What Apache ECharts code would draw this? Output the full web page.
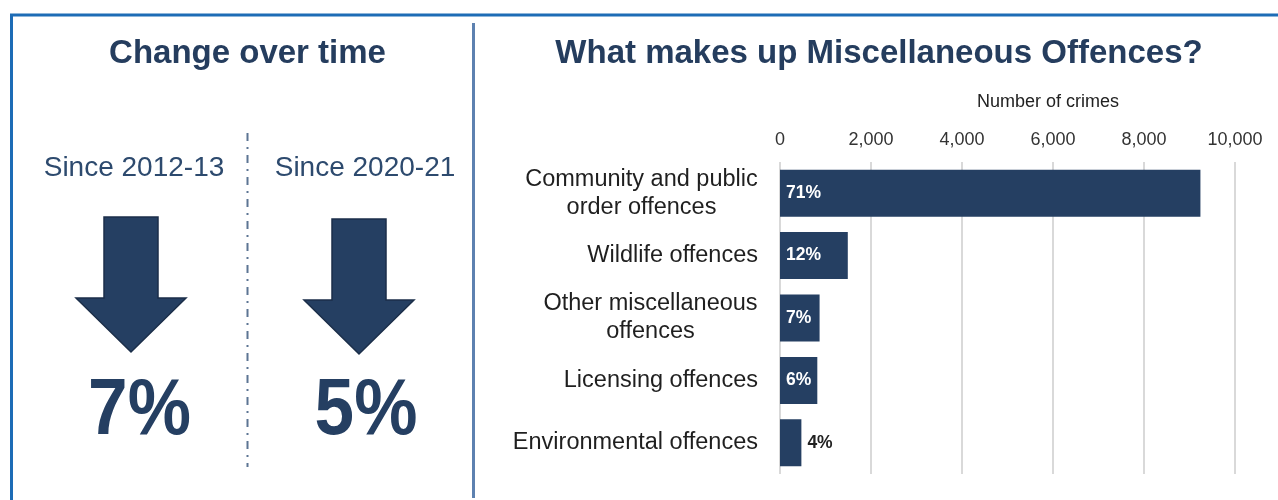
<!DOCTYPE html>
<html>
<head>
<meta charset="utf-8">
<script src="https://cdn.jsdelivr.net/npm/echarts@6/dist/echarts.min.js"></script>
<style>
  html, body { margin: 0; padding: 0; background: #ffffff; }
  #chart { width: 1278px; height: 500px; }
</style>
</head>
<body>
<div id="chart"></div>
<script>
// Miscellaneous offences: breakdown by type and change over time
const categories = [
  'Community and public\norder offences',
  'Wildlife offences',
  'Other miscellaneous\noffences',
  'Licensing offences',
  'Environmental offences'
];
const crimeCounts = [9240, 1490, 870, 820, 470];
const sharePct = [71, 12, 7, 6, 4];
const xTicks = [0, 2000, 4000, 6000, 8000, 10000];
const changePeriods = ['Since 2012-13', 'Since 2020-21'];
const changePct = [7, 5];

const FONT = '"Liberation Sans", Arial, sans-serif';
const NAVY = '#253f62';
const CAT_FONT_SIZE = 23.5;
const CAT_LINE_HEIGHT = 28;

const chart = echarts.init(document.getElementById('chart'), null, { renderer: 'canvas' });

// width of the widest line of a wrapped category name
const measureCtx = document.createElement('canvas').getContext('2d');
measureCtx.font = CAT_FONT_SIZE + 'px ' + FONT;
function blockWidth(str) {
  return Math.ceil(Math.max.apply(null, str.split('\n').map(s => measureCtx.measureText(s).width)));
}

// Down arrow polygon centred on cx
function downArrow(cx, top) {
  const shaftHalf = 27, headHalf = 55, headY = top + 81, tipY = headY + 54;
  return {
    type: 'polygon',
    shape: {
      points: [
        [cx - shaftHalf, top], [cx + shaftHalf, top], [cx + shaftHalf, headY],
        [cx + headHalf, headY], [cx, tipY], [cx - headHalf, headY],
        [cx - shaftHalf, headY]
      ]
    },
    style: { fill: NAVY, stroke: '#1b2e49', lineWidth: 1.5 },
    silent: true
  };
}

function text(str, x, y, font, fill, scaleX) {
  return {
    type: 'text',
    silent: true,
    x: x, y: y,
    scaleX: scaleX || 1,
    style: {
      text: str, x: 0, y: 0, font: font, fill: fill,
      align: 'center', verticalAlign: 'middle',
      textAlign: 'center', textVerticalAlign: 'middle'
    }
  };
}

const panelX = [134, 365];
const arrowX = [131, 359];
const arrowTop = [217, 219];
const pctX = [139.5, 366];

const graphics = [
  // outer frame
  { type: 'rect', silent: true, shape: { x: 11.5, y: 15, width: 1400, height: 700 },
    style: { fill: 'none', stroke: '#1d6cb6', lineWidth: 3 } },
  // panel divider
  { type: 'line', silent: true, shape: { x1: 473.5, y1: 23, x2: 473.5, y2: 498 },
    style: { stroke: '#5d81b0', lineWidth: 3 } },
  // dash-dot separator between the two periods
  { type: 'line', silent: true, shape: { x1: 247.5, y1: 133, x2: 247.5, y2: 467 },
    style: { stroke: '#5c7593', lineWidth: 2, lineDash: [8, 6, 2, 6] } },
  text('Change over time', 247.5, 54, 'bold 33px ' + FONT, '#253d5e'),
  text('What makes up Miscellaneous Offences?', 879, 54, 'bold 33px ' + FONT, '#253d5e'),
  text('Number of crimes', 1048, 102, '18px ' + FONT, '#222222')
];

changePeriods.forEach((p, i) => {
  graphics.push(text(p, panelX[i], 168, '28px ' + FONT, '#2d4a6e'));
  graphics.push(downArrow(arrowX[i], arrowTop[i]));
  graphics.push(text(changePct[i] + '%', pctX[i], 412, 'bold 79px ' + FONT, NAVY, 0.9));
});

const barData = crimeCounts.map((v, i) => {
  const item = { value: v };
  // narrow bars carry their label outside
  if (v < 600) {
    item.label = { position: 'right', color: '#222222', distance: 6 };
  }
  return item;
});

// wrapped names are centred line by line inside a right-aligned block
const richStyles = {};
categories.forEach((c, i) => {
  if (c.indexOf('\n') < 0) return;
  richStyles['m' + i] = {
    width: blockWidth(c), align: 'center',
    fontFamily: FONT, fontSize: CAT_FONT_SIZE, lineHeight: CAT_LINE_HEIGHT, color: '#1f1f1f'
  };
});

const option = {
  backgroundColor: '#ffffff',
  animation: false,
  graphic: graphics,
  grid: { left: 780, right: 43, top: 162, bottom: 26, containLabel: false },
  xAxis: {
    type: 'value',
    position: 'top',
    min: xTicks[0],
    max: xTicks[xTicks.length - 1],
    interval: xTicks[1] - xTicks[0],
    axisLine: { show: false },
    axisTick: { show: false },
    axisLabel: {
      margin: 13,
      fontFamily: FONT,
      fontSize: 18,
      color: '#333333',
      formatter: v => v.toLocaleString('en-GB')
    },
    splitLine: { show: true, lineStyle: { color: '#d9d9d9', width: 2 } }
  },
  yAxis: {
    type: 'category',
    inverse: true,
    data: categories,
    axisLine: { show: false },
    axisTick: { show: false },
    axisLabel: {
      margin: 22,
      fontFamily: FONT,
      fontSize: CAT_FONT_SIZE,
      lineHeight: CAT_LINE_HEIGHT,
      color: '#1f1f1f',
      align: 'right',
      formatter: (value, idx) => {
        const key = 'm' + idx;
        return richStyles[key] ? '{' + key + '|' + value + '}' : value;
      },
      rich: richStyles
    }
  },
  series: [{
    type: 'bar',
    data: barData,
    barWidth: 47,
    itemStyle: { color: NAVY },
    label: {
      show: true,
      position: 'insideLeft',
      distance: 6,
      fontFamily: FONT,
      fontWeight: 'bold',
      fontSize: 17.5,
      color: '#ffffff',
      formatter: p => sharePct[p.dataIndex] + '%'
    }
  }]
};

chart.setOption(option);
</script>
</body>
</html>
